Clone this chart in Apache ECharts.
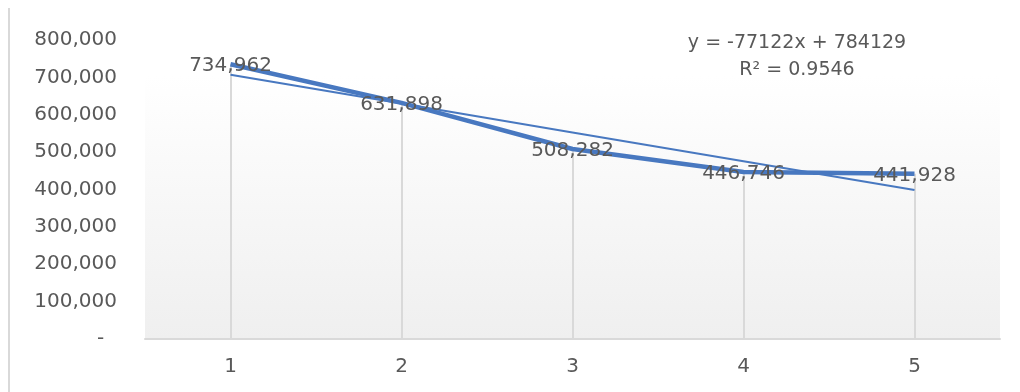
<!DOCTYPE html>
<html>
<head>
<meta charset="utf-8">
<script src="https://cdn.jsdelivr.net/npm/echarts@6/dist/echarts.min.js"></script>
<style>
  html, body { margin: 0; padding: 0; background: #ffffff; }
  #chart { width: 1020px; height: 392px; }
</style>
</head>
<body>
<div id="chart"></div>
<script>
// Periods on the x axis and the measured values
const categories = ['1', '2', '3', '4', '5'];
const values = [734962, 631898, 508282, 446746, 441928];

// Linear trend fitted to the values (as shown in the equation text)
const trendSlope = -77122;
const trendIntercept = 784129;
const trendR2 = '0.9546';

const yTicks = { min: 0, max: 800000, interval: 100000 };

const trendValues = categories.map((c, i) => trendSlope * (i + 1) + trendIntercept);

const FONT = 'DejaVu Sans';
const TEXT = '#595959';
const BLUE = '#4878c0';
const FS = 20;

function fmt(v) {
  return v.toString().replace(/\B(?=(\d{3})+(?!\d))/g, ',');
}

const chart = echarts.init(document.getElementById('chart'), null, { renderer: 'canvas' });

chart.setOption({
  animation: false,
  backgroundColor: '#ffffff',
  grid: {
    left: 145, right: 20, top: 40, bottom: 53,
    show: true,
    borderWidth: 0,
    backgroundColor: new echarts.graphic.LinearGradient(0, 0, 0, 1, [
      { offset: 0, color: '#ffffff' },
      { offset: 0.12, color: '#ffffff' },
      { offset: 1, color: '#efefef' }
    ])
  },
  xAxis: {
    type: 'category',
    data: categories,
    boundaryGap: true,
    axisLine: { show: true, lineStyle: { color: '#d9d9d9', width: 2 } },
    axisTick: { show: false },
    axisLabel: { color: TEXT, fontFamily: FONT, fontSize: FS, margin: 18 },
    splitLine: { show: false }
  },
  yAxis: {
    type: 'value',
    min: yTicks.min, max: yTicks.max, interval: yTicks.interval,
    axisLine: { show: false },
    axisTick: { show: false },
    splitLine: { show: false },
    axisLabel: {
      color: TEXT, fontFamily: FONT, fontSize: FS, margin: 28,
      formatter: v => v === 0 ? '-  ' : fmt(v)
    }
  },
  graphic: [
    {
      type: 'line',
      shape: { x1: 9, y1: 8, x2: 9, y2: 392 },
      style: { stroke: '#d9d9d9', lineWidth: 2 },
      silent: true
    },
    {
      type: 'text',
      x: 797,
      y: 30,
      style: {
        text: 'y = -' + Math.abs(trendSlope) + 'x + ' + trendIntercept + '\nR² = ' + trendR2,
        align: 'center',
        fill: TEXT,
        font: '19px "' + FONT + '"',
        lineHeight: 27
      },
      silent: true
    }
  ],
  series: [
    {
      name: 'Trend',
      type: 'line',
      data: trendValues,
      symbol: 'none',
      lineStyle: { color: BLUE, width: 2 },
      z: 3,
      silent: true
    },
    {
      name: 'Value',
      type: 'line',
      data: values,
      symbol: 'circle',
      symbolSize: 1,
      showSymbol: true,
      itemStyle: { color: 'rgba(0,0,0,0)', borderWidth: 0 },
      lineStyle: { color: BLUE, width: 4.5 },
      z: 4,
      label: {
        show: true,
        position: 'top',
        distance: -12,
        color: TEXT,
        fontFamily: FONT,
        fontSize: FS,
        formatter: p => fmt(p.value)
      },
      labelLayout: { hideOverlap: false },
      markLine: {
        silent: true,
        symbol: 'none',
        label: { show: false },
        lineStyle: { color: '#d9d9d9', width: 2, type: 'solid' },
        z: 1,
        data: values.map((v, i) => [
          { coord: [i, v] },
          { coord: [i, 0] }
        ])
      }
    }
  ]
});
</script>
</body>
</html>
